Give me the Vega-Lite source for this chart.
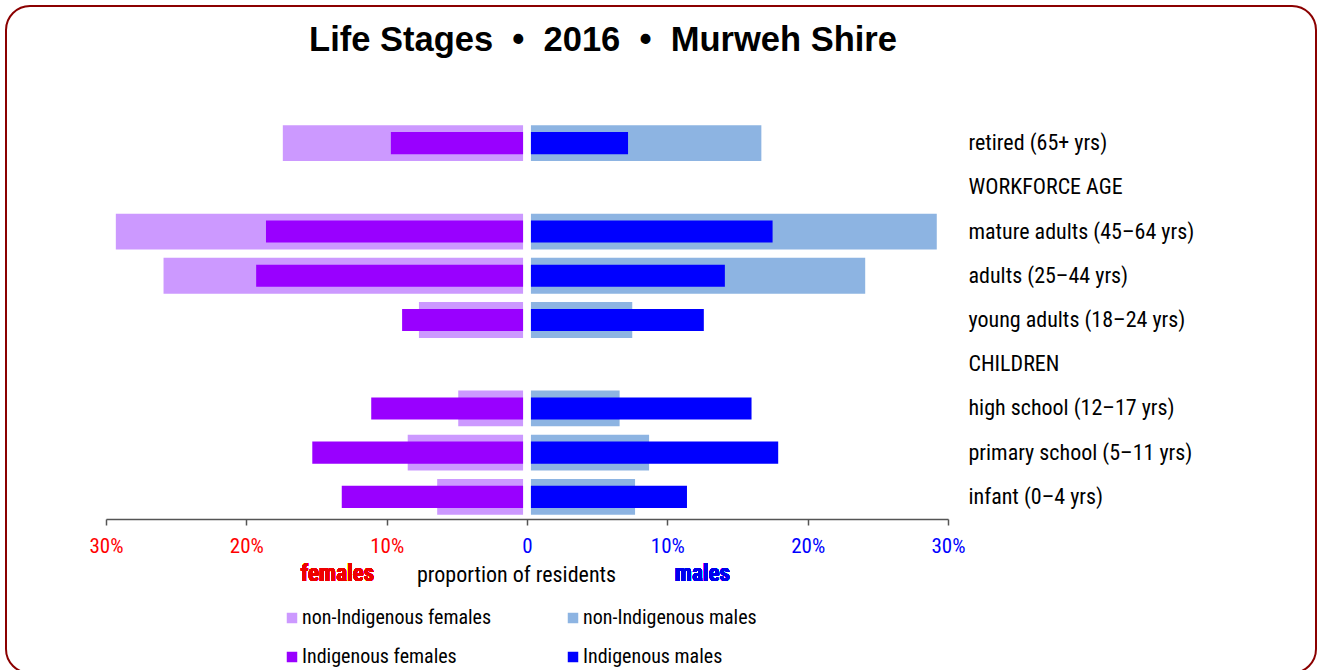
{
  "$schema": "https://vega.github.io/schema/vega-lite/v6.json",
  "width": 1310,
  "height": 667,
  "autosize": "none",
  "padding": {"left": 6, "top": 6, "right": 4, "bottom": -3},
  "background": "white",
  "title": {
    "text": "Life Stages\u00a0 •\u00a0 2016\u00a0 •\u00a0 Murweh Shire",
    "font": "Liberation Sans",
    "fontSize": 34.5,
    "fontWeight": "bold",
    "color": "black",
    "anchor": "middle",
    "frame": "group",
    "baseline": "alphabetic",
    "offset": -46,
    "dy": 33,
    "dx": -58
  },
  "data": {
    "values": [
      {"stage": "retired (65+ yrs)", "group": "non-Indigenous females", "pct": -17.4},
      {"stage": "retired (65+ yrs)", "group": "Indigenous females", "pct": -9.7},
      {"stage": "retired (65+ yrs)", "group": "non-Indigenous males", "pct": 16.7},
      {"stage": "retired (65+ yrs)", "group": "Indigenous males", "pct": 7.2},
      {"stage": "mature adults (45–64 yrs)", "group": "non-Indigenous females", "pct": -29.3},
      {"stage": "mature adults (45–64 yrs)", "group": "Indigenous females", "pct": -18.6},
      {"stage": "mature adults (45–64 yrs)", "group": "non-Indigenous males", "pct": 29.2},
      {"stage": "mature adults (45–64 yrs)", "group": "Indigenous males", "pct": 17.5},
      {"stage": "adults (25–44 yrs)", "group": "non-Indigenous females", "pct": -25.9},
      {"stage": "adults (25–44 yrs)", "group": "Indigenous females", "pct": -19.3},
      {"stage": "adults (25–44 yrs)", "group": "non-Indigenous males", "pct": 24.1},
      {"stage": "adults (25–44 yrs)", "group": "Indigenous males", "pct": 14.1},
      {"stage": "young adults (18–24 yrs)", "group": "non-Indigenous females", "pct": -7.7},
      {"stage": "young adults (18–24 yrs)", "group": "Indigenous females", "pct": -8.9},
      {"stage": "young adults (18–24 yrs)", "group": "non-Indigenous males", "pct": 7.5},
      {"stage": "young adults (18–24 yrs)", "group": "Indigenous males", "pct": 12.6},
      {"stage": "high school (12–17 yrs)", "group": "non-Indigenous females", "pct": -4.9},
      {"stage": "high school (12–17 yrs)", "group": "Indigenous females", "pct": -11.1},
      {"stage": "high school (12–17 yrs)", "group": "non-Indigenous males", "pct": 6.6},
      {"stage": "high school (12–17 yrs)", "group": "Indigenous males", "pct": 16.0},
      {"stage": "primary school (5–11 yrs)", "group": "non-Indigenous females", "pct": -8.5},
      {"stage": "primary school (5–11 yrs)", "group": "Indigenous females", "pct": -15.3},
      {"stage": "primary school (5–11 yrs)", "group": "non-Indigenous males", "pct": 8.7},
      {"stage": "primary school (5–11 yrs)", "group": "Indigenous males", "pct": 17.9},
      {"stage": "infant (0–4 yrs)", "group": "non-Indigenous females", "pct": -6.4},
      {"stage": "infant (0–4 yrs)", "group": "Indigenous females", "pct": -13.2},
      {"stage": "infant (0–4 yrs)", "group": "non-Indigenous males", "pct": 7.7},
      {"stage": "infant (0–4 yrs)", "group": "Indigenous males", "pct": 11.4}
    ]
  },
  "encoding": {
    "y": {
      "field": "stage",
      "type": "nominal",
      "scale": {
        "domain": ["retired (65+ yrs)", "WORKFORCE AGE", "mature adults (45–64 yrs)", "adults (25–44 yrs)", "young adults (18–24 yrs)", "CHILDREN", "high school (12–17 yrs)", "primary school (5–11 yrs)", "infant (0–4 yrs)"],
        "range": [115, 513],
        "paddingInner": 0,
        "paddingOuter": 0
      },
      "axis": {
        "orient": "right",
        "offset": -356,
        "title": null,
        "domain": false,
        "ticks": false,
        "labelPadding": 8,
        "labelAlign": "left",
        "labelBaseline": "middle",
        "labelFont": "Liberation Sans Narrow, Arial Narrow, Roboto Condensed, DejaVu Sans Condensed, Liberation Sans, sans-serif",
        "labelFontSize": 22,
        "labelColor": "black",
        "labelLimit": 400
      }
    },
    "x": {
      "field": "pct",
      "type": "quantitative",
      "scale": {"domain": [-30, 30], "range": [100, 942], "nice": false, "zero": false},
      "axis": {
        "orient": "bottom",
        "offset": -154,
        "values": [-30, -20, -10, 0, 10, 20, 30],
        "labelExpr": "datum.value === 0 ? '0' : abs(datum.value) + '%'",
        "labelColor": {"condition": {"test": "datum.value < 0", "value": "#FF0000"}, "value": "#0000FF"},
        "labelFont": "Liberation Sans Narrow, Arial Narrow, Roboto Condensed, DejaVu Sans Condensed, Liberation Sans, sans-serif",
        "labelFontSize": 21,
        "labelPadding": 10,
        "labelFlush": false,
        "labelOverlap": false,
        "tickSize": 6,
        "tickColor": "#555555",
        "domainColor": "#555555",
        "domainWidth": 1.5,
        "tickWidth": 1.5,
        "grid": false,
        "zindex": 1,
        "title": "proportion of residents",
        "titleFont": "Liberation Sans Narrow, Arial Narrow, Roboto Condensed, DejaVu Sans Condensed, Liberation Sans, sans-serif",
        "titleFontSize": 22,
        "titleFontWeight": "normal",
        "titleColor": "black",
        "titleBaseline": "alphabetic",
        "titleAlign": "center",
        "titleX": 510,
        "titleY": 62
      }
    }
  },
  "layer": [
    {
      "transform": [{"filter": "datum.group === 'non-Indigenous females'"}],
      "mark": {"type": "bar", "height": {"band": 0.81}},
      "encoding": {
        "x2": {"datum": -0.28},
        "color": {"field": "group", "type": "nominal",
          "scale": {"domain": ["non-Indigenous females", "Indigenous females", "non-Indigenous males", "Indigenous males"], "range": ["#CC99FF", "#9900FF", "#8DB4E2", "#0000FF"]},
          "legend": {
            "orient": "none", "legendX": 276, "legendY": 602, "columns": 2, "title": null,
            "symbolType": "square", "symbolSize": 110, "symbolStrokeWidth": 0,
            "labelFont": "Liberation Sans Narrow, Arial Narrow, Roboto Condensed, DejaVu Sans Condensed, Liberation Sans, sans-serif", "labelFontSize": 20, "labelColor": "black",
            "labelOffset": 0, "columnPadding": 71, "rowPadding": 19, "labelLimit": 400, "padding": 0
          }
        }
      }
    },
    {
      "transform": [{"filter": "datum.group === 'non-Indigenous males'"}],
      "mark": {"type": "bar", "height": {"band": 0.81}},
      "encoding": {"x2": {"datum": 0.28}, "color": {"field": "group", "type": "nominal"}}
    },
    {
      "transform": [{"filter": "datum.group === 'Indigenous females'"}],
      "mark": {"type": "bar", "height": {"band": 0.5}},
      "encoding": {"x2": {"datum": -0.28}, "color": {"field": "group", "type": "nominal"}}
    },
    {
      "transform": [{"filter": "datum.group === 'Indigenous males'"}],
      "mark": {"type": "bar", "height": {"band": 0.5}},
      "encoding": {"x2": {"datum": 0.28}, "color": {"field": "group", "type": "nominal"}}
    },
    {
      "mark": {"type": "text", "text": "females", "font": "Liberation Sans Narrow, Arial Narrow, Roboto Condensed, DejaVu Sans Condensed, Liberation Sans, sans-serif", "fontSize": 23, "fontWeight": "bold", "color": "#EE0000", "align": "center", "baseline": "alphabetic", "dy": 84},
      "encoding": {"x": {"datum": -13.5}, "y": {"datum": "infant (0–4 yrs)"}}
    },
    {
      "mark": {"type": "text", "text": "males", "font": "Liberation Sans Narrow, Arial Narrow, Roboto Condensed, DejaVu Sans Condensed, Liberation Sans, sans-serif", "fontSize": 23, "fontWeight": "bold", "color": "#0000EE", "align": "center", "baseline": "alphabetic", "dy": 84},
      "encoding": {"x": {"datum": 12.5}, "y": {"datum": "infant (0–4 yrs)"}}
    }
  ],
  "config": {
    "view": {"stroke": "#8B0000", "strokeWidth": 2, "cornerRadius": 24, "fill": "white"},
    "axis": {"grid": false}
  }
}
